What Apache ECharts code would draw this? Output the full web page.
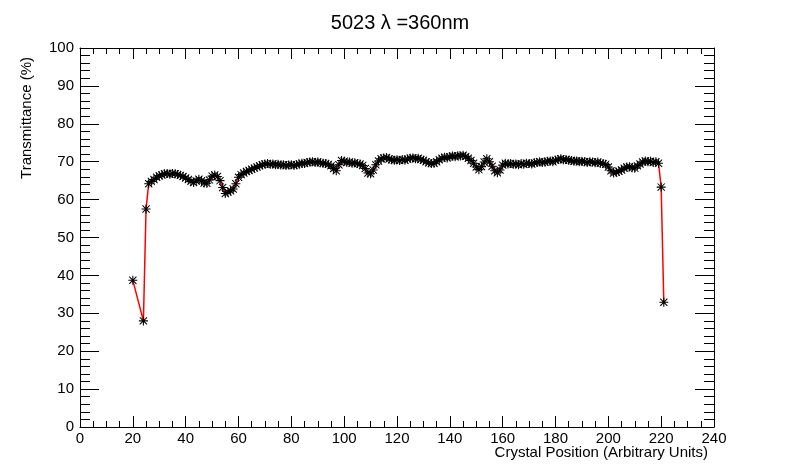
<!DOCTYPE html>
<html>
<head>
<meta charset="utf-8">
<script src="https://cdn.jsdelivr.net/npm/echarts@6/dist/echarts.min.js"></script>
<style>
html, body { margin: 0; padding: 0; background: #fff; }
#chartDiv { width: 800px; height: 474px; }
</style>
</head>
<body>
<div id="chartDiv"></div>
<script>
//标题与坐标轴文字
var chartTitle = '5023 \u03bb =360nm';
var xTitle = 'Crystal Position (Arbitrary Units)';
var yTitle = 'Transmittance (%)';

//晶体位置
var positions = [
	20, 24, 25,
	26, 27, 28, 29, 30, 31, 32, 33, 34, 35,
	36, 37, 38, 39, 40, 41, 42, 43, 44, 45,
	46, 47, 48, 49, 50, 51, 52, 53, 54, 55,
	56, 57, 58, 59, 60, 61, 62, 63, 64, 65,
	66, 67, 68, 69, 70, 71, 72, 73, 74, 75,
	76, 77, 78, 79, 80, 81, 82, 83, 84, 85,
	86, 87, 88, 89, 90, 91, 92, 93, 94, 95,
	96, 97, 98, 99, 100, 101, 102, 103, 104, 105,
	106, 107, 108, 109, 110, 111, 112, 113, 114, 115,
	116, 117, 118, 119, 120, 121, 122, 123, 124, 125,
	126, 127, 128, 129, 130, 131, 132, 133, 134, 135,
	136, 137, 138, 139, 140, 141, 142, 143, 144, 145,
	146, 147, 148, 149, 150, 151, 152, 153, 154, 155,
	156, 157, 158, 159, 160, 161, 162, 163, 164, 165,
	166, 167, 168, 169, 170, 171, 172, 173, 174, 175,
	176, 177, 178, 179, 180, 181, 182, 183, 184, 185,
	186, 187, 188, 189, 190, 191, 192, 193, 194, 195,
	196, 197, 198, 199, 200, 201, 202, 203, 204, 205,
	206, 207, 208, 209, 210, 211, 212, 213, 214, 215,
	216, 217, 218, 219,
	220, 221
];

//透过率 (%)
var transmittance = [
	38.7, 28.0, 57.5,
	64.2, 64.8, 65.3, 65.9, 66.3, 66.5, 66.8, 66.9, 66.7, 66.9,
	66.8, 66.6, 66.4, 66.1, 65.7, 65.3, 64.8, 64.5, 64.9, 65.4,
	65.0, 64.4, 64.3, 65.2, 66.2, 66.5, 66.1, 65.0, 63.2, 61.6,
	62.0, 62.3, 62.8, 64.2, 65.9, 66.6, 67.0, 67.4, 67.7, 68.0,
	68.3, 68.6, 68.9, 69.2, 69.4, 69.5, 69.3, 69.4, 69.2, 69.3,
	69.1, 69.2, 69.0, 69.1, 69.2, 69.0, 69.2, 69.4, 69.6, 69.5,
	69.8, 69.9, 70.0, 69.8, 69.9, 69.7, 69.6, 69.5, 69.3, 68.9,
	68.2, 67.6, 69.2, 70.3, 70.1, 69.8, 69.9, 69.6, 69.7, 69.5,
	69.4, 69.0, 68.2, 67.0, 66.8, 67.8, 69.2, 70.2, 70.8, 71.0,
	71.1, 70.7, 70.5, 70.4, 70.5, 70.3, 70.6, 70.4, 70.7, 70.9,
	71.0, 70.8, 70.9, 70.6, 70.4, 70.0, 69.7, 69.5, 69.6, 70.0,
	70.5, 70.9, 71.2, 71.0, 71.3, 71.5, 71.3, 71.6, 71.5, 71.7,
	71.4, 70.9, 70.3, 69.6, 68.6, 67.9, 68.7, 69.9, 70.8, 70.0,
	68.8, 67.6, 67.1, 67.8, 69.1, 69.6, 69.4, 69.5, 69.3, 69.4,
	69.2, 69.5, 69.3, 69.6, 69.5, 69.4, 69.7, 69.8, 70.0, 69.8,
	69.9, 70.1, 70.2, 70.0, 70.4, 70.6, 70.8, 70.5, 70.6, 70.4,
	70.3, 70.1, 70.2, 70.0, 70.1, 70.0, 69.8, 70.0, 69.9, 69.7,
	69.9, 69.6, 69.5, 69.3, 68.6, 67.6, 67.0, 67.2, 67.5, 67.8,
	68.3, 68.6, 68.7, 68.4, 68.3, 68.9, 69.4, 69.9, 70.2, 70.0,
	70.1, 69.8, 70.0, 69.6,
	63.3, 32.9
];

//星号标记
var starSymbol = 'path://M0,4.4L10,4.4L10,5.6L0,5.6Z' +
	'M4.4,0L5.6,0L5.6,10L4.4,10Z' +
	'M0.6,1.4L1.4,0.6L9.4,8.6L8.6,9.4Z' +
	'M8.6,0.6L9.4,1.4L1.4,9.4L0.6,8.6Z';

//生成透过率曲线图
function generateChart()
{
	var chart = echarts.init(document.getElementById('chartDiv'));
	var points = [];
	for (var i = 0; i < positions.length; i++) {
		points.push([positions[i], transmittance[i]]);
	}
	var fontName = 'Liberation Sans';
	var axisColor = '#000';

	function xAxisCfg(pos, showLabel)
	{
		return {
			type: 'value',
			position: pos,
			min: 0,
			max: 240,
			interval: 20,
			axisLine: { show: true, onZero: false, lineStyle: { color: axisColor, width: 1 } },
			axisTick: { show: true, inside: true, length: 11, lineStyle: { color: axisColor } },
			minorTick: { show: true, splitNumber: 4, length: 6, lineStyle: { color: axisColor } },
			axisLabel: { show: showLabel, color: '#000', fontFamily: fontName, fontSize: 15, margin: 4 },
			splitLine: { show: false },
			minorSplitLine: { show: false }
		};
	}

	function yAxisCfg(pos, showLabel)
	{
		return {
			type: 'value',
			position: pos,
			min: 0,
			max: 100,
			interval: 10,
			axisLine: { show: true, onZero: false, lineStyle: { color: axisColor, width: 1 } },
			axisTick: { show: true, inside: true, length: 19, lineStyle: { color: axisColor } },
			minorTick: { show: true, splitNumber: 5, length: 10, lineStyle: { color: axisColor } },
			axisLabel: { show: showLabel, color: '#000', fontFamily: fontName, fontSize: 15, margin: 6 },
			splitLine: { show: false },
			minorSplitLine: { show: false }
		};
	}

	var option = {
		animation: false,
		backgroundColor: '#fff',
		title: {
			text: chartTitle,
			left: 'center',
			top: 8,
			textStyle: {
				fontSize: 20,
				fontWeight: 'normal',
				fontFamily: fontName,
				color: '#000'
			}
		},
		grid: {
			left: 80,
			right: 86,
			top: 48,
			bottom: 47
		},
		xAxis: [xAxisCfg('bottom', true), xAxisCfg('top', false)],
		yAxis: [yAxisCfg('left', true), yAxisCfg('right', false)],
		graphic: [
			{
				type: 'text',
				x: 27,
				y: 57,
				rotation: Math.PI / 2,
				style: {
					text: yTitle,
					fontFamily: fontName,
					fontSize: 15,
					fill: '#000',
					textAlign: 'right',
					textVerticalAlign: 'middle'
				}
			},
			{
				type: 'text',
				x: 708,
				y: 453,
				style: {
					text: xTitle,
					fontFamily: fontName,
					fontSize: 15,
					fill: '#000',
					textAlign: 'right',
					textVerticalAlign: 'middle'
				}
			}
		],
		series: [{
			name: 'transmittance',
			type: 'line',
			xAxisIndex: 0,
			yAxisIndex: 0,
			data: points,
			showAllSymbol: true,
			symbol: starSymbol,
			symbolSize: 9,
			itemStyle: { color: '#000' },
			lineStyle: { color: '#ff0000', width: 1.5 }
		}]
	};
	chart.setOption(option);
}

generateChart();
</script>
</body>
</html>
